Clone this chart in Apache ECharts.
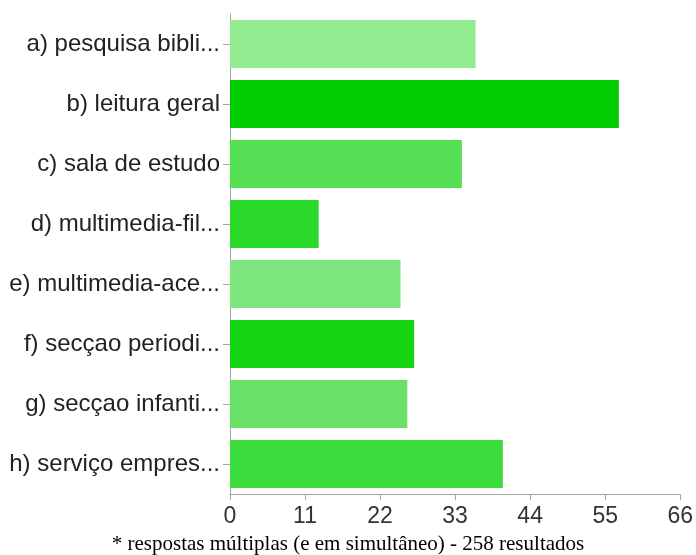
<!DOCTYPE html>
<html>
<head>
<meta charset="utf-8">
<script src="https://cdn.jsdelivr.net/npm/echarts@6/dist/echarts.min.js"></script>
<style>
  html, body { margin: 0; padding: 0; background: #fff; }
  #chart { width: 696px; height: 555px; }
</style>
</head>
<body>
<div id="chart"></div>
<script>
// Library services used (multiple answers allowed)
const categories = [
  'a) pesquisa bibli...',
  'b) leitura geral',
  'c) sala de estudo',
  'd) multimedia-fil...',
  'e) multimedia-ace...',
  'f) secçao periodi...',
  'g) secçao infanti...',
  'h) serviço empres...'
];
const counts = [36, 57, 34, 13, 25, 27, 26, 40];
const barColors = ['#93eb8f', '#00cc00', '#55df55', '#2ad82a', '#7ee67e', '#14d414', '#69e169', '#3ddd3d'];
const xTicks = [0, 11, 22, 33, 44, 55, 66];
const footnote = '* respostas múltiplas (e em simultâneo) - 258 resultados';

const chart = echarts.init(document.getElementById('chart'), null, { renderer: 'canvas' });

chart.setOption({
  animation: false,
  backgroundColor: '#ffffff',
  grid: { left: 230, right: 14, top: 14, bottom: 61, containLabel: false },
  xAxis: {
    type: 'value',
    min: xTicks[0],
    max: xTicks[xTicks.length - 1],
    interval: xTicks[1] - xTicks[0],
    axisLine: { show: true, lineStyle: { color: '#a6a6a6', width: 1 } },
    axisTick: { show: true, length: 6, lineStyle: { color: '#a6a6a6' } },
    splitLine: { show: false },
    axisLabel: {
      color: '#333333',
      fontFamily: 'Liberation Sans, Arial, sans-serif',
      fontSize: 23,
      margin: 11
    }
  },
  yAxis: {
    type: 'category',
    data: categories,
    inverse: true,
    axisLine: { show: true, lineStyle: { color: '#a6a6a6', width: 1 } },
    axisTick: { show: true, alignWithLabel: true, length: 7, lineStyle: { color: '#a6a6a6' } },
    axisLabel: {
      color: '#222222',
      fontFamily: 'Liberation Sans, Arial, sans-serif',
      fontSize: 24,
      margin: 10
    }
  },
  series: [{
    type: 'bar',
    data: counts.map((v, i) => ({ value: v, itemStyle: { color: barColors[i] } })),
    barCategoryGap: '20%'
  }],
  graphic: [{
    type: 'text',
    left: 'center',
    top: 534,
    style: {
      text: footnote,
      fill: '#000000',
      font: '21px "Liberation Serif", "Times New Roman", serif'
    }
  }]
});
</script>
</body>
</html>
